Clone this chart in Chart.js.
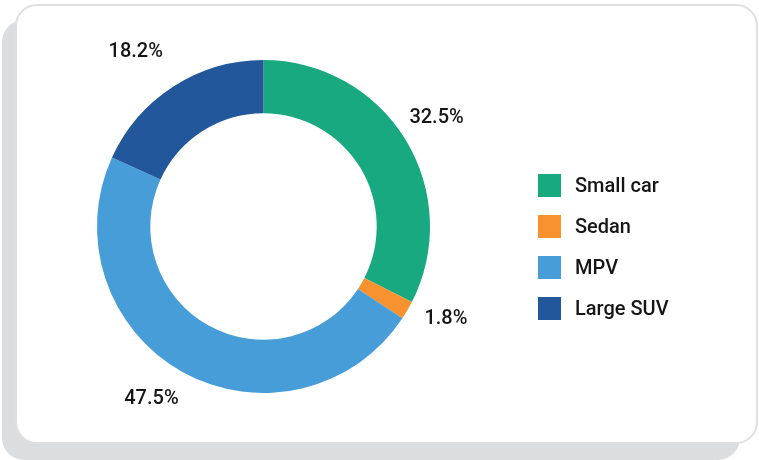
<!DOCTYPE html>
<html><head><meta charset="utf-8">
<script src="https://cdn.jsdelivr.net/npm/chart.js@4"></script>
<style>
html,body{margin:0;padding:0;background:#fff;width:759px;height:460px;overflow:hidden;}
#shadow{position:absolute;left:2px;top:20px;width:738px;height:440px;border-radius:22px;background:#dcdddf;}
#card{position:absolute;left:15px;top:4px;width:743px;height:440px;box-sizing:border-box;border:2px solid #dfdfdf;border-radius:22px;background:#fff;}
canvas{position:absolute;left:0;top:0;}
</style></head><body>
<div id="shadow"></div><div id="card"></div>
<canvas id="c" width="759" height="460"></canvas>
<script>
const categories = ['Small car', 'Sedan', 'MPV', 'Large SUV'];
const shares = [32.5, 1.8, 47.5, 18.2];
const valueLabels = ['32.5%', '1.8%', '47.5%', '18.2%'];
const colors = ['#19a980', '#f7922f', '#479dd8', '#23579c'];

const FONT = '500 20px Roboto, "Noto Sans", sans-serif';
const TEXT = '#161616';

const sliceLabels = {
  id: 'sliceLabels',
  afterDatasetsDraw(chart, args, opts) {
    const ctx = chart.ctx;
    const meta = chart.getDatasetMeta(0);
    ctx.save();
    ctx.font = FONT;
    ctx.fillStyle = TEXT;
    ctx.textAlign = 'center';
    ctx.textBaseline = 'middle';
    meta.data.forEach((arc, i) => {
      const p = arc.getProps(['x', 'y', 'startAngle', 'endAngle', 'outerRadius'], true);
      const mid = (p.startAngle + p.endAngle) / 2;
      const r = p.outerRadius + opts.distance;
      const adj = opts.nudge[i] || [0, 0];
      ctx.fillText(valueLabels[i], p.x + Math.cos(mid) * r + adj[0], p.y + Math.sin(mid) * r + adj[1]);
    });
    ctx.restore();
  }
};

const sideLegend = {
  id: 'sideLegend',
  afterDraw(chart, args, opts) {
    const ctx = chart.ctx;
    const ds = chart.data.datasets[0];
    ctx.save();
    ctx.font = FONT;
    ctx.textBaseline = 'middle';
    ctx.textAlign = 'left';
    chart.data.labels.forEach((lab, i) => {
      const y = opts.top + i * opts.spacing;
      ctx.fillStyle = ds.backgroundColor[i];
      ctx.fillRect(opts.left, y, opts.box, opts.box);
      ctx.fillStyle = TEXT;
      ctx.fillText(lab, opts.left + opts.box + opts.gap, y + opts.box / 2 + 1.5);
    });
    ctx.restore();
  }
};

new Chart(document.getElementById('c'), {
  type: 'doughnut',
  data: {
    labels: categories,
    datasets: [{
      data: shares,
      backgroundColor: colors,
      borderWidth: 0,
      hoverOffset: 0
    }]
  },
  options: {
    responsive: false,
    animation: false,
    cutout: '68%',
    layout: { padding: { left: 97, top: 60, right: 329, bottom: 67 } },
    plugins: {
      legend: { display: false },
      tooltip: { enabled: false },
      sliceLabels: { distance: 40, nudge: [[-3, -1], [4, -11], [-12, -8], [-16, -1]] },
      sideLegend: { left: 538, top: 174, spacing: 41, box: 23, gap: 14 }
    }
  },
  plugins: [sliceLabels, sideLegend]
});
</script>
</body></html>
